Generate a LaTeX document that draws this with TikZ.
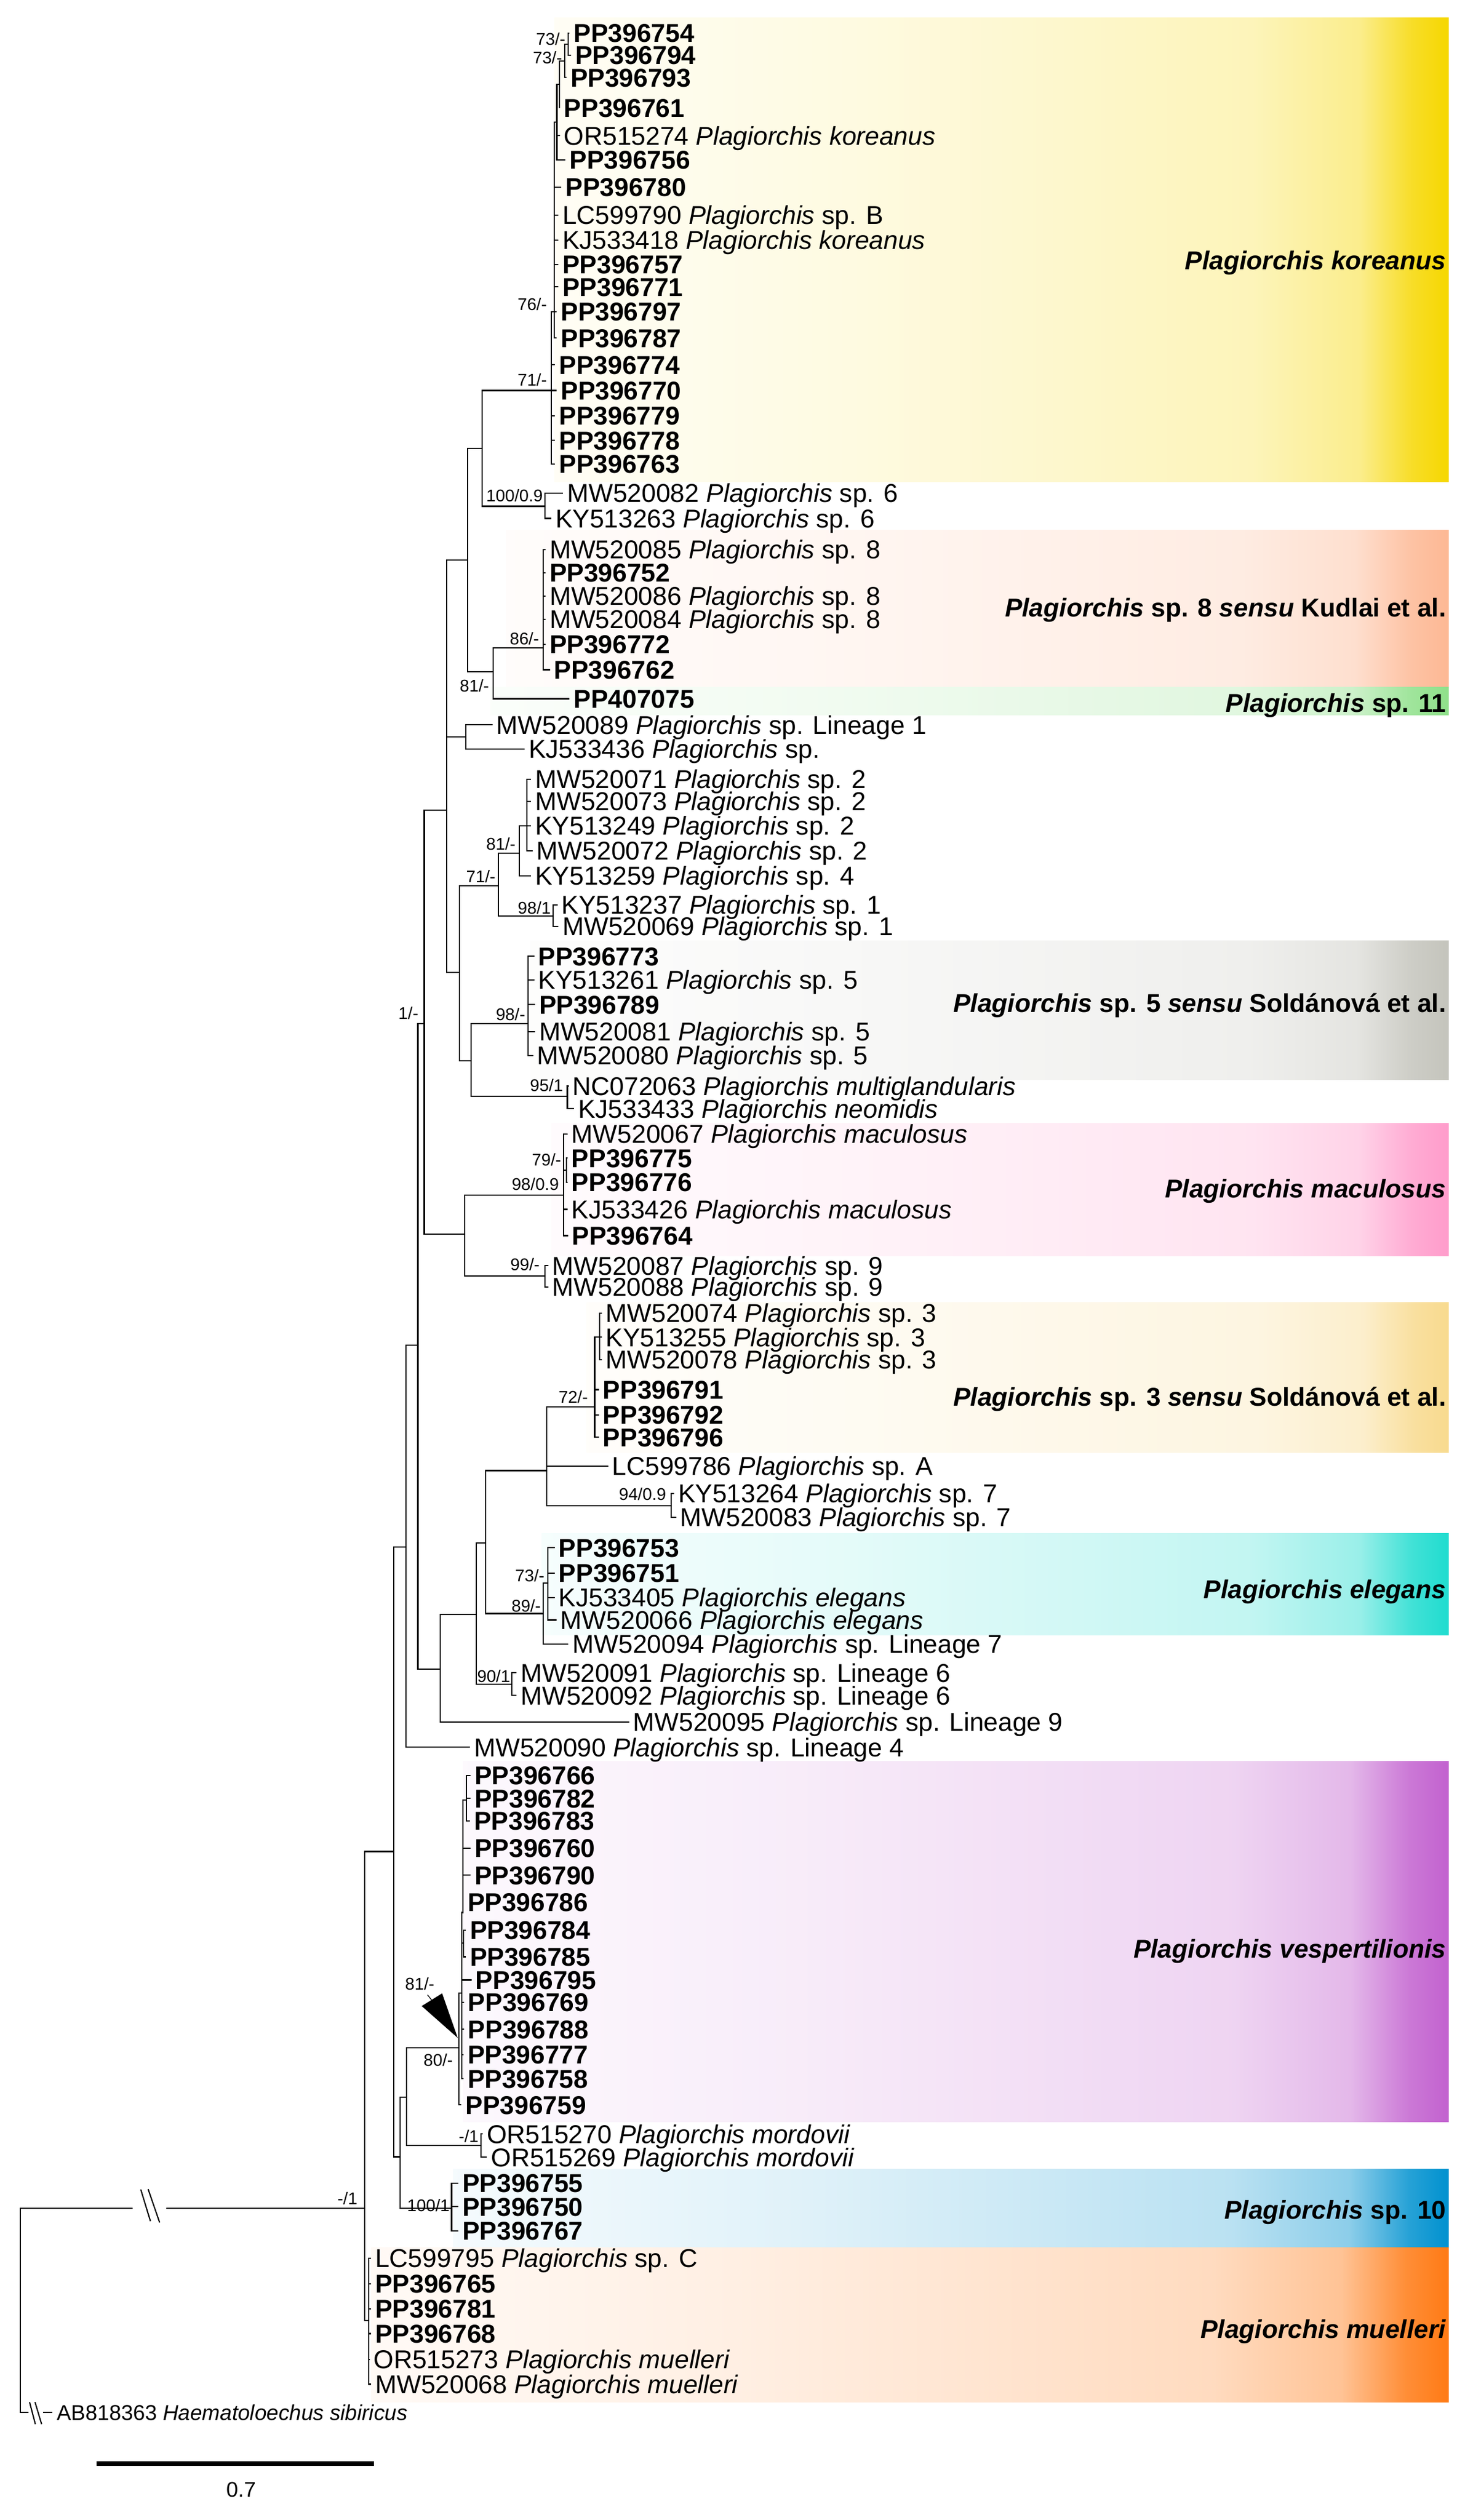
\documentclass[tikz,border=0pt]{standalone}
\usepackage{fontspec}
\setmainfont{Liberation Sans}

% clade colours (strong end of each band)
\definecolor{korC}{HTML}{F6D700}
\definecolor{kudC}{HTML}{FDB894}
\definecolor{elevC}{HTML}{8FE08A}
\definecolor{solfC}{HTML}{C4C4BC}
\definecolor{macC}{HTML}{FF9CCB}
\definecolor{solthC}{HTML}{F8DA8E}
\definecolor{eleC}{HTML}{1FDCCF}
\definecolor{vesC}{HTML}{C261CF}
\definecolor{tenC}{HTML}{0091CF}
\definecolor{mueC}{HTML}{FF7A14}

\newcommand{\Plag}{\textit{Plagiorchis}}
\newcommand{\leaffont}{\fontsize{13.7}{16}\selectfont}

\colorlet{cladecol}{white}
\pgfdeclarehorizontalshading[cladecol]{cladeshade}{100bp}{%
  color(0bp)=(cladecol!4); color(25bp)=(cladecol!4); color(42bp)=(cladecol!12);
  color(64bp)=(cladecol!27); color(70bp)=(cladecol!45); color(73bp)=(cladecol!85);
  color(75bp)=(cladecol); color(100bp)=(cladecol)}

\begin{document}
\begin{tikzpicture}[x=0.03cm, y=-0.03cm,
    branch/.style={line width=0.65pt, line cap=rect},
    elbow/.style={to path={|- (\tikztotarget)}},
    leaf/.style={anchor=west, inner xsep=0.9mm, inner ysep=0pt, outer sep=0pt,
      text height=9.8pt, text depth=0pt, font=\leaffont},
    pp/.style={leaf, font=\leaffont\bfseries},
    outleaf/.style={leaf, text height=8.2pt, font=\fontsize{11.4}{13}\selectfont},
    support/.style={anchor=base east, inner sep=0pt, font=\fontsize{9}{10}\selectfont},
    clade/.style={anchor=east, inner sep=0pt, text height=9.8pt, text depth=0pt,
      font=\leaffont\bfseries}]
\fill[white] (0,0) rectangle (911.2,1568);
\useasboundingbox (0,0) rectangle (911.2,1568);

% clade bands
\foreach \col/\xl/\yt/\yb in {korC/345/10.9/299.7, kudC/315/330/427.5,
    elevC/305/427.5/445, solfC/330/585.5/671.7, macC/343/699/781.3,
    solthC/365/810.5/903.9, eleC/337/954.2/1017.4, vesC/288/1096/1320.3,
    tenC/282/1349.5/1398.3, mueC/231/1398.3/1494.8}
  {\colorlet{cladecol}{\col}\shade[shading=cladeshade] (\xl,\yt) rectangle (901.5,\yb);}

\node[clade] (lab_kor) at (900,162) {\textit{Plagiorchis koreanus}};
\node[clade] (lab_kud) at (900,378) {\textit{Plagiorchis} sp. 8 \textit{sensu} Kudlai et al.};
\node[clade] (lab_11) at (900,437.5) {\textit{Plagiorchis} sp. 11};
\node[clade] (lab_5) at (900,624) {\textit{Plagiorchis} sp. 5 \textit{sensu} Soldánová et al.};
\node[clade] (lab_mac) at (900,739.5) {\textit{Plagiorchis maculosus}};
\node[clade] (lab_3) at (900,869) {\textit{Plagiorchis} sp. 3 \textit{sensu} Soldánová et al.};
\node[clade] (lab_ele) at (900,989) {\textit{Plagiorchis elegans}};
\node[clade] (lab_ves) at (900,1212.5) {\textit{Plagiorchis vespertilionis}};
\node[clade] (lab_10) at (900,1375) {\textit{Plagiorchis} sp. 10};
\node[clade] (lab_mue) at (900,1449) {\textit{Plagiorchis muelleri}};

% new sequences (bold)
\foreach \n/\x/\y in {754/354/20.5, 794/355/34.4, 793/352/48.2, 761/348/67,
    756/351.5/99.5, 780/349/116.4, 757/347/164.6, 771/347/178.5, 797/346/194,
    787/346/210.4, 774/345/227, 770/346/243, 779/345/258.7, 778/345/274,
    763/345/288.8, 752/339/356.4, 772/339/401, 762/341.8/416.7,
    773/332/595, 789/332.5/625, 775/352.7/720.6, 776/352.7/735.6, 764/353/768.8,
    791/372.2/864.7, 792/372.2/880.4, 796/372.2/894.3, 753/344.7/963, 751/344.7/978.7,
    766/292.4/1104.7, 782/292.4/1119, 783/292/1133, 760/292.4/1150, 790/292.4/1166.8,
    786/288/1183.7, 784/289.4/1201, 785/289.4/1217.5, 795/293/1232, 769/288.3/1245.8,
    788/288.3/1262.7, 777/288/1278.4, 758/288/1293.4, 759/286.7/1309.7,
    755/284.8/1358.5, 750/284.8/1373, 767/284.8/1388,
    765/230.5/1421, 781/230.5/1436.5, 768/230.5/1452}
  \node[pp] (pp\n) at (\x,\y) {PP396\n};
\node[pp] (pp075) at (354,434.8) {PP407075};

% GenBank sequences
\node[leaf] (or274) at (348,84.4) {OR515274 \textit{Plagiorchis koreanus}};
\node[leaf] (lc790) at (347,133.9) {LC599790 \Plag{} sp. B};
\node[leaf] (kj418) at (347,149.5) {KJ533418 \textit{Plagiorchis koreanus}};
\node[leaf] (mw082) at (350,306.9) {MW520082 \Plag{} sp. 6};
\node[leaf] (ky263) at (342.6,322.6) {KY513263 \Plag{} sp. 6};
\node[leaf] (mw085) at (339,341.9) {MW520085 \Plag{} sp. 8};
\node[leaf] (mw086) at (339,370.8) {MW520086 \Plag{} sp. 8};
\node[leaf] (mw084) at (339,385.3) {MW520084 \Plag{} sp. 8};
\node[leaf] (mw089) at (306,451) {MW520089 \Plag{} sp. Lineage 1};
\node[leaf] (kj436) at (326,466) {KJ533436 \Plag{} sp.};
\node[leaf] (mw071) at (330,484.8) {MW520071 \Plag{} sp. 2};
\node[leaf] (mw073) at (330,498.7) {MW520073 \Plag{} sp. 2};
\node[leaf] (ky249) at (330,513.7) {KY513249 \Plag{} sp. 2};
\node[leaf] (mw072) at (331,529.4) {MW520072 \Plag{} sp. 2};
\node[leaf] (ky259) at (330,545) {KY513259 \Plag{} sp. 4};
\node[leaf] (ky237) at (346.5,563) {KY513237 \Plag{} sp. 1};
\node[leaf] (mw069) at (347,576.4) {MW520069 \Plag{} sp. 1};
\node[leaf] (ky261) at (332,609.6) {KY513261 \Plag{} sp. 5};
\node[leaf] (mw081) at (332.5,642) {MW520081 \Plag{} sp. 5};
\node[leaf] (mw080) at (331.3,656.7) {MW520080 \Plag{} sp. 5};
\node[leaf] (nc063) at (353.4,675.8) {NC072063 \textit{Plagiorchis multiglandularis}};
\node[leaf] (kj433) at (356.7,689.8) {KJ533433 \textit{Plagiorchis neomidis}};
\node[leaf] (mw067) at (352.7,705.5) {MW520067 \textit{Plagiorchis maculosus}};
\node[leaf] (kj426) at (352.7,752.5) {KJ533426 \textit{Plagiorchis maculosus}};
\node[leaf] (mw087) at (340.7,787.5) {MW520087 \Plag{} sp. 9};
\node[leaf] (mw088) at (340.7,800.8) {MW520088 \Plag{} sp. 9};
\node[leaf] (mw074) at (374,817) {MW520074 \Plag{} sp. 3};
\node[leaf] (ky255) at (374,832) {KY513255 \Plag{} sp. 3};
\node[leaf] (mw078) at (374,846) {MW520078 \Plag{} sp. 3};
\node[leaf] (lc786) at (378,912.3) {LC599786 \Plag{} sp. A};
\node[leaf] (ky264) at (419,929.3) {KY513264 \Plag{} sp. 7};
\node[leaf] (mw083) at (420.3,944) {MW520083 \Plag{} sp. 7};
\node[leaf] (kj405) at (344.7,994) {KJ533405 \textit{Plagiorchis elegans}};
\node[leaf] (mw066) at (345.8,1008) {MW520066 \textit{Plagiorchis elegans}};
\node[leaf] (mw094) at (353.3,1023) {MW520094 \Plag{} sp. Lineage 7};
\node[leaf] (mw091) at (321,1040.8) {MW520091 \Plag{} sp. Lineage 6};
\node[leaf] (mw092) at (321,1055) {MW520092 \Plag{} sp. Lineage 6};
\node[leaf] (mw095) at (391,1071.5) {MW520095 \Plag{} sp. Lineage 9};
\node[leaf] (mw090) at (292,1087.2) {MW520090 \Plag{} sp. Lineage 4};
\node[leaf] (or270) at (300,1327.8) {OR515270 \textit{Plagiorchis mordovii}};
\node[leaf] (or269) at (302.6,1342.3) {OR515269 \textit{Plagiorchis mordovii}};
\node[leaf] (lc795) at (230.5,1405) {LC599795 \Plag{} sp. C};
\node[leaf] (or273) at (229.6,1468) {OR515273 \textit{Plagiorchis muelleri}};
\node[leaf] (mw068) at (230.5,1483.5) {MW520068 \textit{Plagiorchis muelleri}};
\node[outleaf] (ab363) at (32.3,1501) {AB818363 \textit{Haematoloechus sibiricus}};

% internal nodes
\coordinate (kA) at (353.5,27.5);   \coordinate (kB) at (351.5,38);
\coordinate (kC) at (348,52.5);     \coordinate (kD) at (346.5,76);
\coordinate (kE) at (345,194);      \coordinate (kF) at (343,243);
\coordinate (sp6) at (339,315);     \coordinate (p6) at (300,279);
\coordinate (nX) at (291,348.5);    \coordinate (s811) at (307,418);
\coordinate (sp8) at (338,403);     \coordinate (L1) at (290,458.5);
\coordinate (n278) at (278,504);    \coordinate (n286) at (286,605);
\coordinate (n310) at (310,551);    \coordinate (s81) at (323,531);
\coordinate (sp2) at (328,514);     \coordinate (s98) at (344,570);
\coordinate (n293) at (293,660);    \coordinate (sp5) at (328.5,637);
\coordinate (multi) at (353,682);   \coordinate (n264) at (264,637);
\coordinate (mac9) at (289,768);    \coordinate (m98) at (350.6,743.5);
\coordinate (m79) at (352.5,728);   \coordinate (n99) at (339,794);
\coordinate (n260) at (260,837);    \coordinate (n252) at (252.5,962.5);
\coordinate (n274) at (274,1038.6); \coordinate (n296) at (296.4,1004.6);
\coordinate (n90) at (318.5,1048);  \coordinate (n302) at (302,960);
\coordinate (n89) at (338,1004);    \coordinate (el73) at (341,985);
\coordinate (n340) at (340,915);    \coordinate (s94) at (417.5,937);
\coordinate (s72) at (370,875.5);   \coordinate (s3a) at (373,832);
\coordinate (n245) at (245,1152);   \coordinate (n249) at (249,1342);
\coordinate (n253) at (253,1305);   \coordinate (v80) at (285.5,1274);
\coordinate (v81) at (287.3,1240);  \coordinate (vB) at (288,1190);
\coordinate (vA) at (290.3,1120);   \coordinate (vC) at (288.5,1209);
\coordinate (mor) at (299.3,1335);  \coordinate (sp10) at (281,1374);
\coordinate (ing) at (227,1374);    \coordinate (mue) at (229.5,1444);
\coordinate (root) at (12.7,1374);
\coordinate (rcut1) at (82,1374);   \coordinate (rcut2) at (104,1374);
\coordinate (ogk) at (17.3,1501);   \coordinate (ogc) at (27.2,1501);

% branches
\foreach \p/\c in {kA/pp754, kA/pp794, kB/kA, kB/pp793, kC/kB, kC/pp761,
    kD/kC, kD/or274, kD/pp756, kE/kD, kE/pp780, kE/lc790, kE/kj418, kE/pp757,
    kE/pp771, kE/pp797, kE/pp787, kF/kE, kF/pp774, kF/pp770, kF/pp779, kF/pp778,
    kF/pp763, sp6/mw082, sp6/ky263, p6/kF, p6/sp6,
    sp8/mw085, sp8/pp752, sp8/mw086, sp8/mw084, sp8/pp772, sp8/pp762,
    s811/sp8, s811/pp075, nX/p6, nX/s811, L1/mw089, L1/kj436,
    sp2/mw071, sp2/mw073, sp2/ky249, sp2/mw072, s81/sp2, s81/ky259,
    s98/ky237, s98/mw069, n310/s81, n310/s98,
    sp5/pp773, sp5/ky261, sp5/pp789, sp5/mw081, sp5/mw080,
    multi/nc063, multi/kj433, n293/sp5, n293/multi, n286/n310, n286/n293,
    n278/nX, n278/L1, n278/n286,
    m79/pp775, m79/pp776, m98/mw067, m98/m79, m98/kj426, m98/pp764,
    n99/mw087, n99/mw088, mac9/m98, mac9/n99, n264/n278, n264/mac9,
    s3a/mw074, s3a/ky255, s3a/mw078, s72/s3a, s72/pp791, s72/pp792, s72/pp796,
    s94/ky264, s94/mw083, n340/s72, n340/lc786, n340/s94,
    el73/pp753, el73/pp751, el73/kj405, el73/mw066, n89/el73, n89/mw094,
    n302/n340, n302/n89, n90/mw091, n90/mw092, n296/n302, n296/n90,
    n274/n296, n274/mw095, n260/n264, n260/n274, n252/n260, n252/mw090,
    vA/pp766, vA/pp782, vA/pp783, vB/vA, vB/pp760, vB/pp790, vB/pp786,
    vC/pp784, vC/pp785, v81/vB, v81/vC, v81/pp795, v81/pp769, v81/pp788,
    v81/pp777, v81/pp758, v80/v81, v80/pp759, mor/or270, mor/or269,
    n253/v80, n253/mor, sp10/pp755, sp10/pp750, sp10/pp767,
    n249/n253, n249/sp10, n245/n252, n245/n249,
    mue/lc795, mue/pp765, mue/pp781, mue/pp768, mue/or273, mue/mw068,
    ing/n245, ing/mue, root/ogk}
  \path[branch] (\p) edge[elbow] (\c);

% broken root and outgroup branches
\draw[branch] (root) -- (rcut1);
\draw[branch] (rcut2) -- (ing);
\draw[branch] (87.7,1362.7) -- (93.5,1381.7) (92.3,1362.5) -- (99.2,1382.5);
\draw[branch] (ogc) -- (ab363);
\draw[branch] (18.5,1495) -- (21.9,1508) (21.9,1495) -- (25.8,1508);

% marker for the vespertilionis node
\fill (262.4,1248.2) -- (275.1,1240.3) -- (284.8,1268) -- cycle;
\draw[line width=0.4pt] (266,1241.2) -- (268.6,1244.5);

% support values
\node[support] (bs_kA) at (352,28) {73/-};
\node[support] (bs_kB) at (350,39.6) {73/-};
\node[support] (bs_kE) at (340.5,193) {76/-};
\node[support] (bs_kF) at (340.5,240) {71/-};
\node[support] (bs_sp6) at (338,312) {100/0.9};
\node[support] (bs_sp8) at (335.6,401) {86/-};
\node[support] (bs_s811) at (304.5,430.5) {81/-};
\node[support] (bs_s81) at (321,529) {81/-};
\node[support] (bs_n310) at (308.5,549) {71/-};
\node[support] (bs_s98) at (343,568.6) {98/1};
\node[support] (bs_sp5) at (327,635) {98/-};
\node[support] (bs_multi) at (350.6,679) {95/1};
\node[support] (bs_n264) at (260.5,634) {1/-};
\node[support] (bs_m79) at (349.4,725.4) {79/-};
\node[support] (bs_m98) at (348,740.5) {98/0.9};
\node[support] (bs_n99) at (336,790.5) {99/-};
\node[support] (bs_s72) at (366,873) {72/-};
\node[support] (bs_s94) at (414.7,933.4) {94/0.9};
\node[support] (bs_el73) at (339,984) {73/-};
\node[support] (bs_n89) at (336.7,1002.8) {89/-};
\node[support] (bs_n90) at (317.7,1046.8) {90/1};
\node[support] (bs_v81) at (270.5,1238) {81/-};
\node[support] (bs_v80) at (282,1285.6) {80/-};
\node[support] (bs_mor) at (298,1333) {-/1};
\node[support] (bs_sp10) at (280,1376) {100/1};
\node[support] (bs_ing) at (222.6,1371.5) {-/1};

% scale bar
\coordinate (sb1) at (60,1533);
\coordinate (sb2) at (232.6,1533);
\draw[line width=2.5pt] (sb1) -- (sb2);
\node[inner sep=0pt, font=\fontsize{11.3}{13}\selectfont] (sblab) at (150,1549) {0.7};
\end{tikzpicture}
\end{document}
